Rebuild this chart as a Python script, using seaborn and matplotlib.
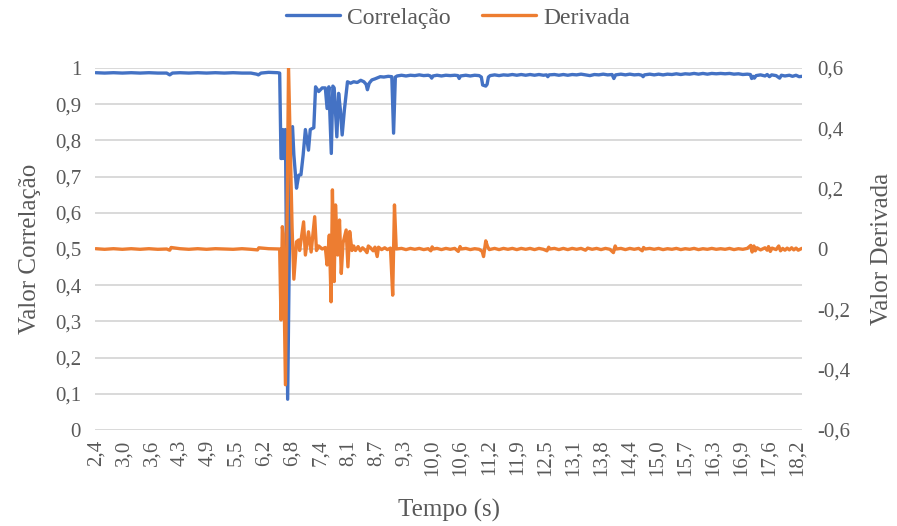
import numpy as np
import pandas as pd
import matplotlib
matplotlib.use("Agg")
import matplotlib.pyplot as plt
import seaborn as sns
from matplotlib.lines import Line2D

# ---------------- data ----------------
t_corr = [2.40, 2.60, 2.80, 3.00, 3.20, 3.40, 3.60, 3.80, 4.00, 4.07, 4.13, 4.30,
          4.50, 4.70, 4.90, 5.10, 5.30, 5.50, 5.70, 5.90, 6.03, 6.07, 6.13, 6.30,
          6.50, 6.55,
          6.58, 6.60, 6.62, 6.65, 6.68, 6.73, 6.80, 6.84, 6.87, 6.93, 6.98, 7.03,
          7.08, 7.13, 7.20, 7.24, 7.32, 7.36, 7.43, 7.51, 7.58, 7.62, 7.66, 7.715,
          7.75, 7.78, 7.84, 7.88, 7.92, 7.96, 8.01, 8.08, 8.15, 8.22, 8.30, 8.38,
          8.45, 8.50, 8.53, 8.57, 8.63, 8.70, 8.76, 8.82, 8.90, 9.00, 9.08, 9.12,
          9.16,
          9.20, 9.30, 9.40, 9.50, 9.60, 9.70, 9.80, 9.90, 9.95, 9.98, 10.01, 10.10,
          10.20, 10.30, 10.40, 10.50, 10.57, 10.60, 10.63, 10.75, 10.85, 10.95,
          11.05, 11.10, 11.13, 11.20, 11.23, 11.26, 11.30, 11.40, 11.50, 11.60,
          11.70, 11.80, 11.90, 12.00, 12.10, 12.20, 12.30, 12.40, 12.50, 12.57,
          12.60, 12.63, 12.75, 12.85, 12.95, 13.05, 13.15, 13.25, 13.35, 13.45,
          13.55, 13.65, 13.75, 13.85, 13.95, 14.05, 14.09, 14.13, 14.25, 14.35,
          14.45, 14.55, 14.65, 14.72, 14.75, 14.78, 14.90, 15.00, 15.10, 15.20,
          15.30, 15.40, 15.50, 15.60, 15.70, 15.80, 15.90, 16.00, 16.10, 16.20,
          16.30, 16.40, 16.50, 16.60, 16.70, 16.80, 16.90, 17.00, 17.10, 17.17,
          17.20, 17.23, 17.26, 17.30, 17.40, 17.50, 17.55, 17.60, 17.65, 17.75,
          17.83, 17.87, 17.95, 18.05, 18.12, 18.20, 18.27, 18.33]
corr = [0.987, 0.986, 0.987, 0.986, 0.987, 0.986, 0.987, 0.986, 0.986, 0.981, 0.986, 0.987,
        0.986, 0.987, 0.986, 0.987, 0.986, 0.987, 0.986, 0.986, 0.983, 0.981, 0.986, 0.988,
        0.987, 0.986,
        0.750, 0.750, 0.830, 0.750, 0.830, 0.085, 0.830, 0.838, 0.760, 0.668, 0.704, 0.705,
        0.760, 0.830, 0.773, 0.830, 0.835, 0.948, 0.935, 0.945, 0.945, 0.888, 0.948, 0.764,
        0.950, 0.945, 0.810, 0.930, 0.884, 0.815, 0.884, 0.962, 0.958, 0.962, 0.960, 0.966,
        0.962, 0.955, 0.940, 0.958, 0.967, 0.970, 0.973, 0.976, 0.975, 0.977, 0.976, 0.820,
        0.975,
        0.978, 0.980, 0.978, 0.980, 0.979, 0.981, 0.979, 0.980, 0.978, 0.972, 0.978, 0.980,
        0.978, 0.980, 0.979, 0.980, 0.979, 0.971, 0.978, 0.980, 0.978, 0.980,
        0.979, 0.975, 0.953, 0.950, 0.955, 0.975, 0.979, 0.981, 0.979, 0.981,
        0.980, 0.982, 0.980, 0.982, 0.980, 0.982, 0.980, 0.982, 0.980, 0.981,
        0.976, 0.981, 0.982, 0.980, 0.982, 0.980, 0.982, 0.981, 0.983, 0.981,
        0.979, 0.982, 0.981, 0.983, 0.981, 0.982, 0.971, 0.981, 0.983, 0.981,
        0.983, 0.981, 0.982, 0.980, 0.976, 0.981, 0.983, 0.981, 0.983, 0.981,
        0.983, 0.982, 0.984, 0.982, 0.984, 0.983, 0.985, 0.983, 0.985, 0.983,
        0.985, 0.984, 0.985, 0.984, 0.985, 0.983, 0.984, 0.982, 0.983, 0.982,
        0.971, 0.977, 0.972, 0.979, 0.981, 0.978, 0.982, 0.976, 0.981, 0.979,
        0.972, 0.980, 0.978, 0.980, 0.977, 0.980, 0.976, 0.977]

t_deriv = [2.40, 2.60, 2.80, 3.00, 3.20, 3.40, 3.60, 3.80, 4.00, 4.07, 4.10, 4.30,
           4.50, 4.70, 4.90, 5.10, 5.30, 5.50, 5.70, 5.90, 6.05, 6.08, 6.30, 6.55,
           6.58, 6.61, 6.63, 6.68, 6.75, 6.83, 6.87, 6.93, 6.98, 7.00, 7.09, 7.13,
           7.20, 7.26, 7.34, 7.38, 7.43, 7.51, 7.58, 7.62, 7.67, 7.71, 7.74, 7.78,
           7.81, 7.86, 7.90, 7.94, 7.98, 8.05, 8.09, 8.13, 8.18, 8.22, 8.26, 8.32,
           8.37, 8.42, 8.48, 8.52, 8.55, 8.60, 8.66, 8.70, 8.75, 8.78, 8.85, 8.92,
           8.98, 9.05, 9.10, 9.14, 9.18,
           9.30, 9.40, 9.50, 9.60, 9.70, 9.80, 9.90, 9.96, 9.99, 10.02, 10.10, 10.20,
           10.30, 10.40, 10.50, 10.58, 10.62, 10.65, 10.75, 10.85, 10.95, 11.05,
           11.12, 11.15, 11.20, 11.24, 11.28, 11.40, 11.50, 11.60, 11.70, 11.80,
           11.90, 12.00, 12.10, 12.20, 12.30, 12.40, 12.50, 12.58, 12.62, 12.65,
           12.75, 12.85, 12.95, 13.05, 13.15, 13.25, 13.35, 13.45, 13.50, 13.60,
           13.70, 13.80, 13.90, 14.00, 14.08, 14.12, 14.15, 14.25, 14.35, 14.45,
           14.55, 14.65, 14.73, 14.76, 14.80, 14.90, 15.00, 15.10, 15.20, 15.30,
           15.40, 15.50, 15.60, 15.70, 15.80, 15.90, 16.00, 16.10, 16.20, 16.30,
           16.40, 16.50, 16.60, 16.70, 16.80, 16.90, 17.00, 17.10, 17.18, 17.21,
           17.25, 17.28, 17.32, 17.40, 17.50, 17.55, 17.58, 17.62, 17.66, 17.75,
           17.81, 17.85, 17.90, 17.95, 18.00, 18.05, 18.10, 18.15, 18.20, 18.25,
           18.33]
deriv = [0.001, -0.001, 0.001, -0.001, 0.001, -0.001, 0.001, -0.001, 0.000, -0.004, 0.005, 0.001,
         -0.001, 0.001, -0.001, 0.001, 0.000, -0.001, 0.001, -0.001, -0.003, 0.004, 0.001, 0.000,
         -0.235, 0.074, 0.050, -0.450, 0.600, 0.070, -0.100, 0.024, 0.030, -0.005, 0.090, -0.020,
         0.057, -0.010, 0.107, -0.005, 0.010, 0.000, 0.005, -0.053, 0.046, -0.175, 0.196, -0.108,
         0.146, -0.020, 0.096, -0.081, 0.020, 0.063, -0.059, 0.058, -0.005, 0.010, -0.005, 0.008,
         -0.006, 0.004, -0.004, -0.012, 0.010, 0.004, -0.006, 0.006, -0.025, 0.006, -0.002, 0.004,
         -0.002, 0.003, -0.153, 0.146, 0.000,
         0.002, -0.002, 0.002, -0.001, 0.002, -0.002, 0.001, -0.006, 0.007, 0.000, 0.002, -0.002,
         0.002, -0.001, 0.002, -0.008, 0.008, 0.000, 0.002, -0.002, 0.001, -0.001,
         -0.008, -0.025, 0.027, 0.008, -0.002, 0.002, -0.002, 0.002, -0.001, 0.002,
         -0.002, 0.002, -0.001, 0.002, -0.002, 0.002, -0.001, -0.006, 0.006, 0.000,
         0.002, -0.002, 0.002, -0.002, 0.002, -0.001, 0.002, -0.004, 0.003, -0.001,
         0.002, -0.002, 0.002, -0.001, -0.012, 0.010, 0.000, 0.002, -0.002, 0.002,
         -0.001, 0.002, -0.006, 0.005, 0.000, 0.002, -0.001, 0.002, -0.002, 0.001,
         -0.001, 0.002, -0.002, 0.001, -0.001, 0.002, -0.002, 0.001, -0.001, 0.002,
         -0.001, 0.001, -0.001, 0.002, -0.002, 0.001, -0.001, 0.002, 0.012, -0.010,
         0.010, -0.006, 0.004, -0.003, 0.004, -0.004, 0.008, -0.008, 0.003, -0.002,
         0.010, -0.006, 0.002, -0.004, 0.003, -0.003, 0.004, -0.003, 0.003, -0.004,
         0.002]

tick_labels = ["2,4", "3,0", "3,6", "4,3", "4,9", "5,5", "6,2", "6,8", "7,4", "8,1",
               "8,7", "9,3", "10,0", "10,6", "11,2", "11,9", "12,5", "13,1", "13,8",
               "14,4", "15,0", "15,7", "16,3", "16,9", "17,6", "18,2"]
left_ticks = [0, 0.1, 0.2, 0.3, 0.4, 0.5, 0.6, 0.7, 0.8, 0.9, 1.0]
left_labels = ["0", "0,1", "0,2", "0,3", "0,4", "0,5", "0,6", "0,7", "0,8", "0,9", "1"]
right_ticks = [-0.6, -0.4, -0.2, 0, 0.2, 0.4, 0.6]
right_labels = ["-0,6", "-0,4", "-0,2", "0", "0,2", "0,4", "0,6"]

# ---------------- style ----------------
BLUE = "#4472C4"
ORANGE = "#ED7D31"
TXT = "#595959"
GRID = "#D9D9D9"

sns.set_theme(style="white")
plt.rcParams['font.family'] = ['Liberation Serif', 'DejaVu Serif']

W, H = 897, 526
fig = plt.figure(figsize=(W / 100, H / 100), dpi=100)
ax = fig.add_axes([95 / W, 1 - 430 / H, 707 / W, 362 / H])
ax2 = ax.twinx()

df_c = pd.DataFrame({"Tempo": t_corr, "Valor": corr})
df_d = pd.DataFrame({"Tempo": t_deriv, "Valor": deriv})

sns.lineplot(data=df_c, x="Tempo", y="Valor", ax=ax, color=BLUE, lw=2.4, zorder=3)
sns.lineplot(data=df_d, x="Tempo", y="Valor", ax=ax2, color=ORANGE, lw=2.4, zorder=3)

# x axis: category-like time ticks (30 samples/s, label every 19 samples)
step = 19 / 30.0
tick_pos = [2.4 + k * step for k in range(len(tick_labels))]
ax.set_xlim(2.4 - 0.5 / 30, 18.335)
ax.set_xticks(tick_pos)
ax.set_xticklabels(tick_labels, rotation=90, fontsize=15, color=TXT)

ax.set_ylim(0, 1)
ax.set_yticks(left_ticks)
ax.set_yticklabels(left_labels, fontsize=15, color=TXT)
ax2.set_ylim(-0.6, 0.6)
ax2.set_yticks(right_ticks)
ax2.set_yticklabels(right_labels, fontsize=15, color=TXT)

ax.tick_params(axis="x", length=0, pad=7)
ax.tick_params(axis="y", length=0, pad=10)
ax2.tick_params(axis="y", length=0, pad=11)

ax.grid(axis="y", color=GRID, lw=1.4)
ax.grid(axis="x", visible=False)
ax2.grid(False)
for a in (ax, ax2):
    for s in a.spines.values():
        s.set_visible(False)
    a.set_xlabel("")
    a.set_ylabel("")
ax.set_axisbelow(True)

fig.text(30 / W, 1 - 249 / H, "Valor Correlação", rotation=90, ha="center",
         va="center", fontsize=18, color=TXT)
fig.text(882 / W, 1 - 249 / H, "Valor Derivada", rotation=90, ha="center",
         va="center", fontsize=18, color=TXT)
fig.text(449 / W, 1 - 510 / H, "Tempo (s)", ha="center", va="center",
         fontsize=18, color=TXT)

handles = [Line2D([], [], color=BLUE, lw=2.4), Line2D([], [], color=ORANGE, lw=2.4)]
fig.legend(handles, ["Correlação", "Derivada"], loc="center",
           bbox_to_anchor=(458 / W, 1 - 18 / H), ncol=2, frameon=False,
           fontsize=17, handlelength=2.3, columnspacing=1.3, handletextpad=0.3,
           labelcolor=TXT)

fig.savefig("out.png", dpi=100)
